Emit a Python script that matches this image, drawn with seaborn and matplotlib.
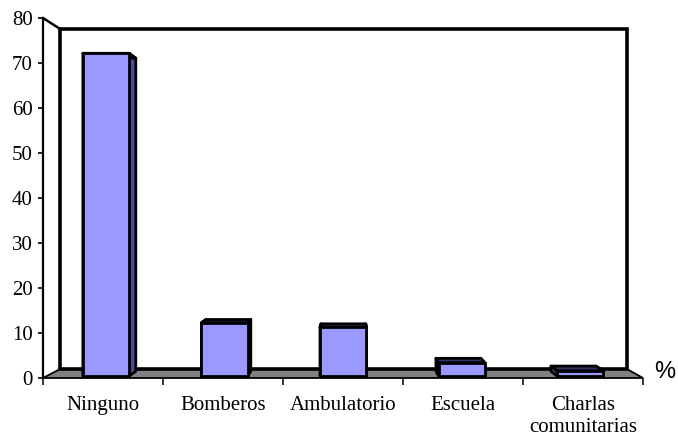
import matplotlib
matplotlib.use("Agg")
import matplotlib.pyplot as plt
from matplotlib.patches import Polygon
import seaborn as sns

# ---- data -------------------------------------------------------------
categories = ["Ninguno", "Bomberos", "Ambulatorio", "Escuela", "Charlas\ncomunitarias"]
values = [72.6, 12, 11, 3, 1.2]
y_ticks = [0, 10, 20, 30, 40, 50, 60, 70, 80]

# ---- style ------------------------------------------------------------
sns.set_theme(style="white")
plt.rcParams["font.family"] = ["Liberation Serif", "DejaVu Serif"]

FRONT = "#9999FF"
SIDE = "#4C4C99"
TOP = "#34346B"
FLOOR = "#808080"

# pseudo-3D perspective: vanishing point (data units) and receding factors
VPX, VPY = 2.075, 36.0
WALL_DEPTH = 0.055
BAR_FRONT = 0.012
BAR_DEPTH = 0.03


def recede(pts, f):
    return [(x + f * (VPX - x), y + f * (VPY - y)) for x, y in pts]


fig = plt.figure(figsize=(6.78, 4.38), dpi=100)
ax = fig.add_axes([43 / 678, 60 / 438, 600 / 678, 360 / 438])
ax.set_xlim(-0.5, 4.5)
ax.set_ylim(0, 80)

# ---- walls and floor ----------------------------------------------------
x0, x1, y0, y1 = -0.5, 4.5, 0, 80
bl_b, bl_t, br_b, br_t = recede([(x0, y0), (x0, y1), (x1, y0), (x1, y1)], WALL_DEPTH)

# left side wall
ax.add_patch(Polygon([(x0, y0), (x0, y1), bl_t, bl_b], closed=True,
                     facecolor="white", edgecolor="none", clip_on=False, zorder=1))
ax.plot([x0, bl_t[0]], [y1, bl_t[1]], color="black", lw=1.8, clip_on=False, zorder=2,
        solid_capstyle="round")
# back wall edges
ax.plot([bl_b[0], bl_t[0], br_t[0], br_t[0]], [bl_b[1], bl_t[1], br_t[1], br_b[1]],
        color="black", lw=2.6, clip_on=False, zorder=2, solid_joinstyle="miter")

# floor
ax.add_patch(Polygon([(x0, y0), bl_b, br_b, (x1, y0)], closed=True,
                     facecolor=FLOOR, edgecolor="black", lw=1.3, clip_on=False, zorder=2))
ax.plot([bl_b[0], br_b[0]], [bl_b[1], br_b[1]], color="black", lw=2.6,
        clip_on=False, zorder=2)

# ---- bars ---------------------------------------------------------------
sns.barplot(x=categories, y=values, color=FRONT, saturation=1, width=0.39,
            edgecolor="black", linewidth=2, ax=ax, zorder=5)

for p in list(ax.patches):
    if not hasattr(p, "get_width") or isinstance(p, Polygon):
        continue
    bx0 = p.get_x()
    bx1 = bx0 + p.get_width()
    h = p.get_height()
    # front face sits a little way into the floor
    fl_b, fl_t, fr_b, fr_t = recede([(bx0, 0), (bx0, h), (bx1, 0), (bx1, h)], BAR_FRONT)
    p.set_x(fl_b[0])
    p.set_y(fl_b[1])
    p.set_width(fr_b[0] - fl_b[0])
    p.set_height(fl_t[1] - fl_b[1])
    p.set_clip_on(False)
    kl_b, kl_t, kr_b, kr_t = recede([fl_b, fl_t, fr_b, fr_t], BAR_DEPTH)
    faces = [
        ([fl_b, fl_t, kl_t, kl_b], SIDE),
        ([fr_b, fr_t, kr_t, kr_b], SIDE),
        ([fl_t, fr_t, kr_t, kl_t], TOP),
    ]
    for pts, col in faces:
        ax.add_patch(Polygon(pts, closed=True, facecolor=col, edgecolor="black",
                             lw=2, joinstyle="round", clip_on=False, zorder=4))

# ---- axes ---------------------------------------------------------------
for side in ["top", "right", "bottom"]:
    ax.spines[side].set_visible(False)
ax.spines["left"].set_linewidth(1.6)
ax.spines["left"].set_color("black")
ax.spines["left"].set_zorder(3)

ax.set_yticks(y_ticks)
ax.set_yticklabels([str(t) for t in y_ticks])
ax.tick_params(axis="y", which="major", left=True, length=3.8, width=1.2,
               color="black", pad=3.5, labelsize=15, labelcolor="black")

ax.set_xticks(range(len(categories)))
ax.set_xticklabels(categories, multialignment="center")
ax.set_xticks([i - 0.5 for i in range(len(categories) + 1)], minor=True)
ax.tick_params(axis="x", which="major", bottom=False, length=0, pad=13,
               labelsize=15, labelcolor="black")
ax.tick_params(axis="x", which="minor", bottom=True, length=5, width=1.1,
               color="black", direction="out")
ax.set_xlabel("")
ax.set_ylabel("")
ax.set_facecolor("white")
ax.grid(False)

fig.text(665 / 678, 1 - 372 / 438, "%", family=["Liberation Sans", "DejaVu Sans"],
         fontsize=17, ha="center", va="center", color="black")

fig.savefig("out.png", dpi=100, facecolor="white")
